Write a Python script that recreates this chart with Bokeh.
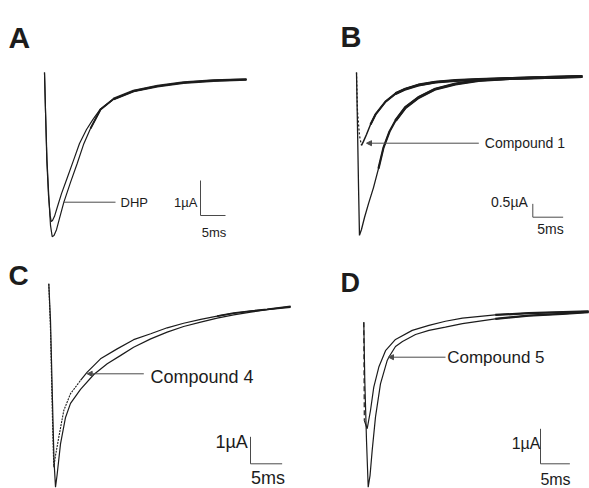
from bokeh.plotting import figure
from bokeh.layouts import gridplot
from bokeh.models import Range1d, Arrow, NormalHead
from bokeh.core.properties import value
from bokeh.embed import file_html
from bokeh.resources import INLINE

# ---------------- data (time in ms, current in µA) ----------------
# Panel A: control vs DHP
A_t_control = [0, 0.2, 0.5, 0.9, 1.2, 1.54, 1.9, 2.4, 3.0, 3.86, 5.2, 6.54, 7.8, 9.2, 11.2, 13.8, 17.8, 22.6, 27.8, 33.8, 40.4]
A_i_control = [0, -1.09, -2.51, -3.66, -4.37, -4.69, -4.66, -4.49, -4.17, -3.71, -3.14, -2.6, -2.06, -1.6, -1.06, -0.76, -0.53, -0.39, -0.29, -0.23, -0.2]
A_t_drug = [0, 0.2, 0.46, 0.8, 1.14, 1.34, 1.6, 2.0, 2.6, 3.4, 4.5, 5.8, 7.0, 8.4, 9.7, 11.2, 13.8, 17.8, 22.6, 27.8, 33.8, 40.4]
A_i_drug = [0, -1.09, -2.51, -3.51, -4.09, -4.26, -4.23, -4.11, -3.83, -3.46, -3.03, -2.51, -2.03, -1.63, -1.34, -1.04, -0.76, -0.53, -0.39, -0.29, -0.23, -0.2]

# Panel B: control vs Compound 1
B_t_control = [0, 0.16, 0.33, 0.49, 0.82, 1.32, 1.98, 2.8, 3.62, 4.45, 5.44, 6.43, 8.07, 10.2, 13.0, 16.3, 20.1, 25.7, 31.1, 37.2]
B_i_control = [0, -1.99, -4.23, -6.1, -5.88, -5.43, -4.91, -4.31, -3.6, -2.81, -2.21, -1.8, -1.31, -0.94, -0.62, -0.43, -0.30, -0.22, -0.19, -0.15]
B_t_drug = [0, 0.16, 0.49, 0.82, 1.15, 1.65, 2.31, 3.13, 4.78, 6.43, 8.07, 10.2, 13.0, 16.3, 20.1, 25.7, 31.1, 37.2]
B_i_drug = [0, -1.42, -2.36, -2.73, -2.58, -2.32, -1.95, -1.57, -1.09, -0.79, -0.62, -0.47, -0.36, -0.30, -0.26, -0.22, -0.19, -0.15]

# Panel C: control vs Compound 4
C_t_control = [0, 0.27, 0.58, 0.82, 1.06, 1.3, 1.85, 2.64, 3.43, 5.01, 7.11, 9.23, 11.3, 13.4, 16.1, 18.7, 21.3, 24.0, 26.6, 29.2, 31.9, 34.5, 38.2]
C_i_control = [0, -1.36, -4.32, -6.54, -7.53, -7.1, -5.93, -4.95, -4.43, -3.91, -3.36, -2.96, -2.66, -2.35, -2.04, -1.79, -1.58, -1.42, -1.27, -1.15, -1.05, -0.96, -0.87]
C_t_drug = [0, 0.27, 0.51, 0.66, 0.79, 1.06, 1.58, 2.37, 3.43, 5.01, 6.07, 8.17, 10.8, 13.4, 16.1, 18.7, 21.3, 24.0, 26.6, 29.2, 31.9, 34.5, 38.2]
C_i_drug = [0, -1.73, -4.32, -5.8, -6.79, -6.36, -5.68, -4.69, -4.07, -3.58, -3.27, -2.78, -2.41, -2.07, -1.85, -1.63, -1.46, -1.32, -1.2, -1.09, -1.01, -0.95, -0.84]

# Panel D: control vs Compound 5
D_t_control = [0, 0.17, 0.46, 0.75, 1.06, 1.43, 1.99, 2.84, 3.99, 4.26, 5.4, 6.59, 8.81, 11.1, 13.9, 16.8, 22.4, 28.1, 33.8, 38.3]
D_i_control = [-0.48, -2.14, -3.86, -5.19, -4.86, -4.14, -3.19, -2.24, -1.57, -1.48, -1.17, -1.03, -0.83, -0.71, -0.62, -0.52, -0.38, -0.29, -0.24, -0.19]
D_t_drug = [0, 0.09, 0.58, 1.14, 1.7, 2.56, 3.7, 5.4, 8.25, 11.1, 13.9, 16.8, 22.4, 28.1, 38.3]
D_i_drug = [-0.48, -3.29, -3.52, -3.0, -2.33, -1.76, -1.29, -0.97, -0.71, -0.57, -0.45, -0.36, -0.27, -0.22, -0.17]

# scale bars
SCALE_MS = 5
A_SCALE_UA, B_SCALE_UA, C_SCALE_UA, D_SCALE_UA = 1, 0.5, 1, 1
A_SCALE_TXT, B_SCALE_TXT, C_SCALE_TXT, D_SCALE_TXT = "1µA", "0.5µA", "1µA", "1µA"
TIME_TXT = "5ms"

FONT = "Liberation Sans"
INK = "#1c1c1c"
GUIDE = "#4a4a4a"


def make_panel(w, h, ox, oy, sx, sy):
    p = figure(width=w, height=h, output_backend="svg", toolbar_location=None,
               x_range=Range1d(-ox / sx, (w - ox) / sx),
               y_range=Range1d((oy - h) / sy, oy / sy),
               x_axis_location=None, y_axis_location=None, min_border=0)
    p.xgrid.grid_line_color = None
    p.ygrid.grid_line_color = None
    p.outline_line_color = None
    p.background_fill_color = "white"
    p.border_fill_color = "white"

    def at(x, y):
        return (x - ox) / sx, (oy - y) / sy
    return p, at


def txt(p, at, x, y, s, size, align="left", bold=False, baseline="middle"):
    tx, ty = at(x, y)
    p.text(x=[tx], y=[ty], text=[s], text_font=value(FONT),
           text_font_size=value(f"{size}px"), text_align=align,
           text_baseline=baseline, text_font_style="bold" if bold else "normal",
           text_color=INK)


def scale_bar(p, at, x, y, ua, size, lab_x, lab_y, ms_x, ms_y, ua_txt):
    cx, cy = at(x, y)
    p.line([cx, cx, cx + SCALE_MS], [cy + ua, cy, cy], line_color=GUIDE, line_width=1)
    txt(p, at, lab_x, lab_y, ua_txt, size, align="right")
    txt(p, at, ms_x, ms_y, TIME_TXT, size, align="center")


def pointer(p, at, x0, x1, y, head=True):
    a0 = at(x0, y)
    a1 = at(x1, y)
    if head:
        p.add_layout(Arrow(end=NormalHead(size=5, fill_color=GUIDE, line_color=GUIDE, line_width=1),
                           x_start=a0[0], y_start=a0[1], x_end=a1[0], y_end=a1[1],
                           line_color=GUIDE, line_width=1))
    else:
        p.line([a0[0], a1[0]], [a0[1], a1[1]], line_color=GUIDE, line_width=1)


# ---------------- Panel A ----------------
pA, atA = make_panel(294, 244, 44, 72, 5.0, 35)
pA.line(A_t_drug, A_i_drug, line_color=INK, line_width=1.2)
pA.line(A_t_control, A_i_control, line_color=INK, line_width=1.2)
pA.line(A_t_control[13:], A_i_control[13:], line_color=INK, line_width=1.9)
pA.line(A_t_control[15:], A_i_control[15:], line_color=INK, line_width=2.7, line_alpha=0.9)
txt(pA, atA, 8, 37, "A", 30, bold=True, baseline="alphabetic")
pointer(pA, atA, 115, 63, 201.7, head=False)
txt(pA, atA, 120, 202, "DHP", 13)
scale_bar(pA, atA, 200, 215, A_SCALE_UA, 13, 197, 201.7, 213.5, 231.7, A_SCALE_TXT)

# ---------------- Panel B ----------------
pB, atB = make_panel(295, 244, 62, 72, 6.07, 26.7)
pB.line(B_t_control, B_i_control, line_color=INK, line_width=1.3)
pB.line(B_t_drug[:4], B_i_drug[:4], line_color=INK, line_width=1.2, line_dash="2 2")
pB.line(B_t_drug[3:], B_i_drug[3:], line_color=INK, line_width=1.5)
pB.line(B_t_control[8:], B_i_control[8:], line_color=INK, line_width=2.2)
pB.line(B_t_control[11:], B_i_control[11:], line_color=INK, line_width=2.9)
pB.line(B_t_drug[6:], B_i_drug[6:], line_color=INK, line_width=2.2)
pB.line(B_t_drug[9:], B_i_drug[9:], line_color=INK, line_width=2.9)
txt(pB, atB, 46, 36, "B", 29, bold=True, baseline="alphabetic")
pointer(pB, atB, 184.3, 72, 142.7)
txt(pB, atB, 190.3, 142.7, "Compound 1", 14)
scale_bar(pB, atB, 238.3, 216.7, B_SCALE_UA, 14, 233.3, 201.7, 256, 228.3, B_SCALE_TXT)

# ---------------- Panel C ----------------
pC, atC = make_panel(294, 244, 48.3, 39.3, 6.33, 27)
pC.line(C_t_control, C_i_control, line_color=INK, line_width=1.2)
pC.line(C_t_drug[:10], C_i_drug[:10], line_color=INK, line_width=1.1, line_dash="2 1")
pC.line(C_t_drug[9:], C_i_drug[9:], line_color=INK, line_width=1.2)
pC.line(C_t_drug[18:], C_i_drug[18:], line_color=INK, line_width=1.8)
txt(pC, atC, 8, 31, "C", 28, bold=True, baseline="alphabetic")
pointer(pC, atC, 143.3, 86.7, 129.3)
txt(pC, atC, 150, 132.7, "Compound 4", 18)
scale_bar(pC, atC, 250, 219.3, C_SCALE_UA, 18, 247.3, 197.7, 267.5, 233.5, C_SCALE_TXT)

# ---------------- Panel D ----------------
pD, atD = make_panel(295, 244, 69.3, 61, 5.87, 35)
pD.line(D_t_drug[:2], D_i_drug[:2], line_color=INK, line_width=1.2, line_dash="5 3")
pD.line(D_t_drug[1:], D_i_drug[1:], line_color=INK, line_width=1.2)
pD.line(D_t_control, D_i_control, line_color=INK, line_width=1.2)
pD.line(D_t_control[16:], D_i_control[16:], line_color=INK, line_width=2.2)
pD.line(D_t_drug[12:], D_i_drug[12:], line_color=INK, line_width=2.2)
txt(pD, atD, 46, 38, "D", 27, bold=True, baseline="alphabetic")
pointer(pD, atD, 151, 94, 112.7)
txt(pD, atD, 152.7, 112.7, "Compound 5", 17)
scale_bar(pD, atD, 246, 219.3, D_SCALE_UA, 16, 246, 199.3, 261, 234.5, D_SCALE_TXT)

grid = gridplot([[pA, pB], [pC, pD]], toolbar_location=None)
open("out.html", "w").write(file_html(grid, INLINE))
